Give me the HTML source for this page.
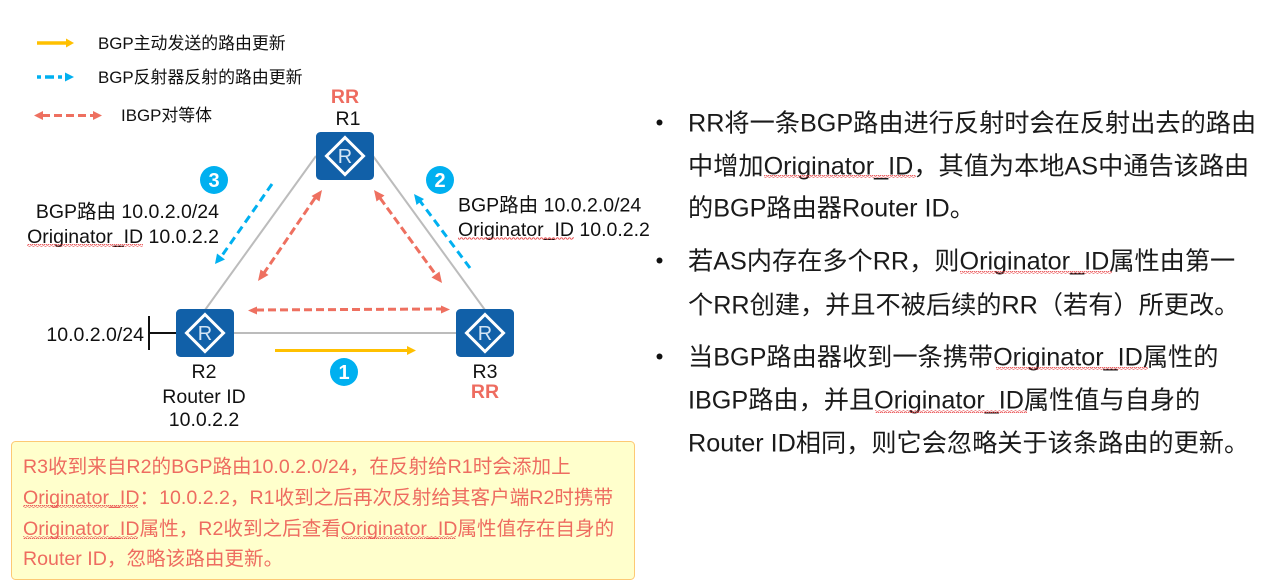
<!DOCTYPE html>
<html><head><meta charset="utf-8"><style>
html,body{margin:0;padding:0;background:#fff;width:1266px;height:588px;overflow:hidden}
svg{display:block}
text{font-family:"Liberation Sans","Noto Sans CJK SC",sans-serif;fill:#111}
.c{text-anchor:middle}
.n{font-size:19.5px}
.l{font-size:16.9px}
.b{font-size:25.2px;fill:#1a1a1a}
.y{font-size:19.6px;fill:#ee6c60}
.rr{font-size:19.5px;font-weight:bold;fill:#ee6c60;text-anchor:middle}
.num{font-size:20px;font-weight:bold;fill:#fff;text-anchor:middle}
.line{stroke:#bcbcbc;stroke-width:2}
.red{stroke:#ee7060;stroke-width:3;stroke-dasharray:8 4;fill:none}
.blue{stroke:#00b0f0;stroke-width:3;stroke-dasharray:8 5;fill:none}
</style></head><body>
<svg width="1266" height="588" viewBox="0 0 1266 588" xmlns="http://www.w3.org/2000/svg">
<defs>
<pattern id="w" width="4" height="3" patternUnits="userSpaceOnUse"><path d="M0 2.2L1 .8L2 .8L3 2.2L4 2.2" fill="none" stroke="#e8484a" stroke-width=".9"/></pattern>
<g id="router"><rect x="0" y="0" width="58" height="48" rx="4.5" fill="#1160a8"/>
<path d="M29 5.500L47.500 24L29 42.500L10.500 24Z" fill="none" stroke="#fff" stroke-width="3"/>
<text x="29" y="31" class="c" style="font-size:20px;fill:#d5e6f5">R</text></g>
</defs>

<!-- legend -->
<line x1="37" y1="43" x2="67" y2="43" stroke="#ffc000" stroke-width="3.500"/><path d="M74 43L66 38.500V47.500Z" fill="#ffc000"/>
<text x="98" y="49" class="l">BGP主动发送的路由更新</text>
<line x1="37" y1="77" x2="67" y2="77" stroke="#00b0f0" stroke-width="3.500" stroke-dasharray="4 4 9 4"/><path d="M74 77L65 72.500V81.500Z" fill="#00b0f0"/>
<text x="98" y="83" class="l">BGP反射器反射的路由更新</text>
<path d="M34 115.500L43 111V120Z" fill="#ee7060"/><path d="M102 115.500L93 111V120Z" fill="#ee7060"/>
<line x1="42" y1="115.500" x2="94" y2="115.500" class="red"/>
<text x="121" y="121" class="l">IBGP对等体</text>

<!-- links -->
<line x1="316" y1="156" x2="205" y2="310" class="line"/>
<line x1="373" y1="156" x2="485" y2="310" class="line"/>
<line x1="234" y1="333" x2="457" y2="333" class="line"/>
<line x1="149" y1="333" x2="177" y2="333" stroke="#111" stroke-width="2"/>
<line x1="149" y1="316" x2="149" y2="350" stroke="#111" stroke-width="2"/>

<!-- routers -->
<use href="#router" x="316" y="132"/>
<use href="#router" x="176" y="309"/>
<use href="#router" x="456" y="309"/>

<text x="345" y="103" class="rr">RR</text>
<text x="348" y="125" class="n c">R1</text>
<text x="204" y="378" class="n c">R2</text>
<text x="204" y="403" class="n c">Router ID</text>
<text x="204" y="426" class="n c">10.0.2.2</text>
<text x="485" y="378" class="n c">R3</text>
<text x="485" y="398" class="rr">RR</text>
<text x="144" y="341" class="n" text-anchor="end">10.0.2.0/24</text>

<!-- red arrows -->
<line x1="315" y1="198" x2="264" y2="273" class="red"/>
<path d="M322 190L319.500 201.500L311.500 196Z" fill="#ee7060"/><path d="M258 281L260.500 269.500L268.500 275Z" fill="#ee7060"/>
<line x1="380" y1="198" x2="436" y2="275" class="red"/>
<path d="M374 190L384.500 195.500L376.500 201.500Z" fill="#ee7060"/><path d="M442 283L431.500 277.500L439.500 271.500Z" fill="#ee7060"/>
<line x1="256" y1="310" x2="442" y2="309" class="red"/>
<path d="M248 310.500L257 306.500V314.500Z" fill="#ee7060"/><path d="M450 309.500L441 305.500V313.500Z" fill="#ee7060"/>

<!-- blue arrows -->
<line x1="272" y1="184" x2="221" y2="257" class="blue"/><path d="M215 264L217 253.500L225 259.500Z" fill="#00b0f0"/>
<line x1="470" y1="268" x2="420" y2="201" class="blue"/><path d="M414 194L424 199L416.500 205Z" fill="#00b0f0"/>

<!-- yellow arrow -->
<line x1="275" y1="350.500" x2="409" y2="350.500" stroke="#ffc000" stroke-width="3"/><path d="M416 350.500L407 346V355Z" fill="#ffc000"/>

<!-- number badges -->
<circle cx="344" cy="372" r="14" fill="#00b0f0"/><text x="344" y="379" class="num">1</text>
<circle cx="440" cy="180" r="14" fill="#00b0f0"/><text x="440" y="187" class="num">2</text>
<circle cx="214" cy="180" r="14" fill="#00b0f0"/><text x="214" y="187" class="num">3</text>

<!-- route labels -->
<text x="219" y="218" class="n" text-anchor="end">BGP路由 10.0.2.0/24</text>
<text x="219" y="243" class="n" text-anchor="end">Originator_ID 10.0.2.2</text>
<rect x="27" y="244" width="116" height="3" fill="url(#w)"/>
<text x="458" y="211.500" class="n">BGP路由 10.0.2.0/24</text>
<text x="458" y="236" class="n">Originator_ID 10.0.2.2</text>
<rect x="458" y="237" width="116" height="3" fill="url(#w)"/>

<!-- yellow note -->
<rect x="11.500" y="441.500" width="623" height="138" rx="4" fill="#ffffcc" stroke="#fdc974" stroke-width="1"/>
<text x="23" y="473" class="y">R3收到来自R2的BGP路由10.0.2.0/24，在反射给R1时会添加上</text>
<text x="23" y="504" class="y">Originator_ID：10.0.2.2，R1收到之后再次反射给其客户端R2时携带</text>
<text x="23" y="535" class="y">Originator_ID属性，R2收到之后查看Originator_ID属性值存在自身的</text>
<text x="23" y="565" class="y">Router ID，忽略该路由更新。</text>
<rect x="23" y="505" width="115" height="3" fill="url(#w)"/>
<rect x="23" y="536" width="115" height="3" fill="url(#w)"/>
<rect x="341" y="536" width="115" height="3" fill="url(#w)"/>

<!-- bullets -->
<circle cx="659.500" cy="122.500" r="3" fill="#111"/>
<circle cx="659.500" cy="260.500" r="3" fill="#111"/>
<circle cx="659.500" cy="356.500" r="3" fill="#111"/>
<text x="688" y="131.500" class="b">RR将一条BGP路由进行反射时会在反射出去的路由</text>
<text x="688" y="174.500" class="b">中增加Originator_ID，其值为本地AS中通告该路由</text>
<text x="688" y="216.500" class="b">的BGP路由器Router ID。</text>
<rect x="764" y="175" width="152" height="3" fill="url(#w)"/>
<text x="688" y="269.500" class="b">若AS内存在多个RR，则Originator_ID属性由第一</text>
<text x="688" y="313.500" class="b">个RR创建，并且不被后续的RR（若有）所更改。</text>
<rect x="960" y="271" width="152" height="3" fill="url(#w)"/>
<text x="688" y="365.500" class="b">当BGP路由器收到一条携带Originator_ID属性的</text>
<text x="688" y="408.500" class="b">IBGP路由，并且Originator_ID属性值与自身的</text>
<text x="688" y="451.500" class="b">Router ID相同，则它会忽略关于该条路由的更新。</text>
<rect x="996" y="367" width="152" height="3" fill="url(#w)"/>
<rect x="875" y="410" width="152" height="3" fill="url(#w)"/>
</svg>
</body></html>
